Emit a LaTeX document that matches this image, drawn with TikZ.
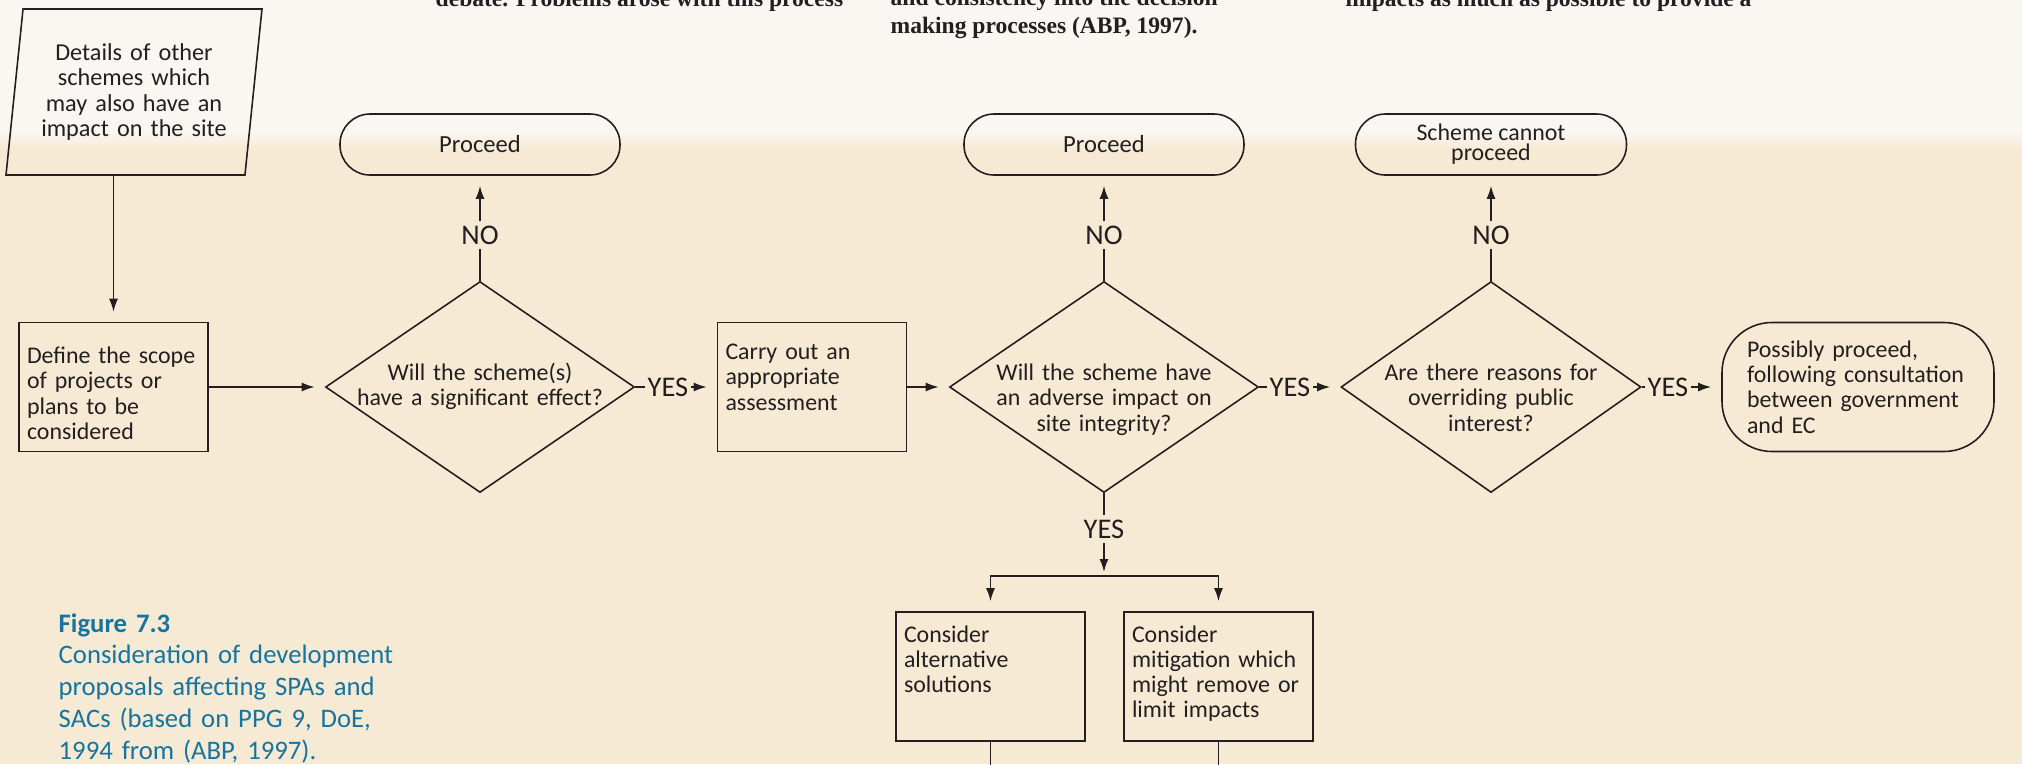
\documentclass[tikz,border=0pt]{standalone}
\usepackage{fontspec}
\setmainfont{Carlito}
\newfontfamily\bodyserif{Liberation Serif}
\usetikzlibrary{shapes.geometric,arrows.meta}

\definecolor{paperwhite}{HTML}{FAF7F2}
\definecolor{paperbeige}{HTML}{F7EAD5}
\definecolor{inkblack}{HTML}{231F20}
\definecolor{captionblue}{HTML}{1674A0}

\tikzset{
    flow/.style={-{Latex[length=1.3mm,width=0.9mm]},shorten >=1mm},
    stepbox/.style={draw,rectangle,text width=1.73cm,align=left,inner xsep=0.08cm,inner ysep=0.12cm,
        text height=0.25cm,text depth=0.80cm,font=\fontsize{6.8}{7.2}\selectfont},
    decision/.style={draw,diamond,aspect=1.46,minimum width=3.09cm,minimum height=2.11cm,inner sep=0pt,
        text width=2.5cm,align=center,text height=0cm,text depth=0.13cm,font=\fontsize{6.8}{7.2}\selectfont},
    terminal/.style={draw,rectangle,rounded corners=0.3cm,minimum width=2.8cm,minimum height=0.61cm,
        inner sep=0pt,align=center,font=\fontsize{7}{7.2}\selectfont},
    answer/.style={inner xsep=0.02cm,inner ysep=0.04cm,font=\fontsize{8.1}{8.4}\selectfont},
    pagetext/.style={anchor=base west,inner sep=0pt,font=\bodyserif\bfseries\fontsize{6.7}{8}\selectfont}
}

\begin{document}
\begin{tikzpicture}
        \useasboundingbox (0,0) rectangle (20.22,-7.64);
        % paper: light strip at the top, beige below
        \fill[paperwhite] (0,0) rectangle (20.22,-1.30);
        \shade[top color=paperwhite,bottom color=paperbeige] (0,-1.30) rectangle (20.22,-1.50);
        \fill[paperbeige] (0,-1.50) rectangle (20.22,-7.64);

        % running text of the page
        \node[pagetext,text=inkblack] (textA) at (4.35,-0.06) {debate. Problems arose with this process};
        \node[pagetext,text=inkblack] (textB) at (8.90,-0.05) {and consistency into the decision};
        \node[pagetext,text=inkblack] (textC) at (8.90,-0.33) {making processes (ABP, 1997).};
        \node[pagetext,text=inkblack] (textD) at (13.45,-0.06) {impacts as much as possible to provide a};

        \begin{scope}[color=inkblack,line width=0.45pt]
            \node[draw,trapezium,trapezium left angle=80,trapezium right angle=100,trapezium stretches body,
                minimum width=2.56cm,minimum height=1.66cm,inner sep=0pt,text width=1.95cm,align=center,
                font=\fontsize{6.9}{7.2}\selectfont] (details) at (1.34,-0.92)
                {Details of other\\schemes which\\may also have an\\impact on the site};

            % main row
            \node[stepbox,text height=0.29cm,text depth=0.76cm] (define) at (1.135,-3.87) {Define the scope\\of projects or\\plans to be\\considered};
            \node[decision] (effect) at (4.80,-3.87) {Will the scheme(s)\\have a significant effect?};
            \node[stepbox] (assess) at (8.12,-3.87) {Carry out an\\appropriate\\assessment};
            \node[decision] (adverse) at (11.04,-3.87) {Will the scheme have\\an adverse impact on\\site integrity?};
            \node[decision,minimum width=3.0cm] (interest) at (14.91,-3.87) {Are there reasons for\\overriding public\\interest?};
            \node[terminal,rounded corners=0.5cm,minimum width=2.72cm,minimum height=1.29cm,text width=2.22cm,
                align=left,font=\fontsize{6.8}{7.2}\selectfont] (possibly) at (18.58,-3.87)
                {Possibly proceed,\\following consultation\\between government\\and EC};

            % top row
            \node[terminal] (proceedA) at (4.80,-1.445) {Proceed};
            \node[terminal] (proceedB) at (11.04,-1.445) {Proceed};
            \node[terminal,minimum width=2.71cm,font=\fontsize{6.8}{5.7}\selectfont] (stop) at (14.91,-1.445) {Scheme cannot\\proceed};

            % bottom row
            \node[stepbox,text height=0.18cm,text depth=0.87cm] (alternatives) at (9.905,-6.765) {Consider\\alternative\\solutions};
            \node[stepbox,text height=0.18cm,text depth=0.87cm] (mitigation) at (12.185,-6.765) {Consider\\mitigation which\\might remove or\\limit impacts};

            \foreach \x/\src/\dst/\lbl in {4.80/effect/proceedA/noA,11.04/adverse/proceedB/noB,14.91/interest/stop/noC}{
                \node[answer] (\lbl) at (\x,-2.35) {NO};
                \draw (\src.north) -- (\lbl);
                \draw[flow] (\lbl) -- (\dst);
            }
            \foreach \x/\src/\dst/\lbl in {6.68/effect/assess/yesA,12.90/adverse/interest/yesB,16.68/interest/possibly/yesC}{
                \node[answer] (\lbl) at (\x,-3.87) {YES};
                \draw (\src.east) -- (\lbl);
                \draw[flow] (\lbl) -- (\dst);
            }

            \draw[flow] (define.north |- details.south) -- (define.north);
            \draw[flow] (define) -- (effect);
            \draw[flow] (assess) -- (adverse);

            \node[answer] (yesD) at (11.04,-5.29) {YES};
            \coordinate (split) at (11.04,-5.76);
            \draw (adverse.south) -- (yesD);
            \draw[flow,shorten >=0.4mm] (yesD) -- (split);
            \draw[flow] (split) -| (alternatives.north);
            \draw[flow] (split) -| (mitigation.north);

            \coordinate (altexit) at (9.905,-7.80);
            \coordinate (mitexit) at (12.185,-7.80);
            \draw (alternatives) -- (altexit);
            \draw (mitigation) -- (mitexit);
        \end{scope}

        \node[anchor=base west,inner sep=0pt,text width=3.6cm,align=left,text=captionblue,
            font=\fontsize{7.6}{9.1}\selectfont] (caption) at (0.58,-6.32)
            {\textbf{Figure 7.3}\\Consideration of development\\proposals affecting SPAs and\\SACs (based on PPG 9, DoE,\\1994 from (ABP, 1997).};
\end{tikzpicture}
\end{document}
